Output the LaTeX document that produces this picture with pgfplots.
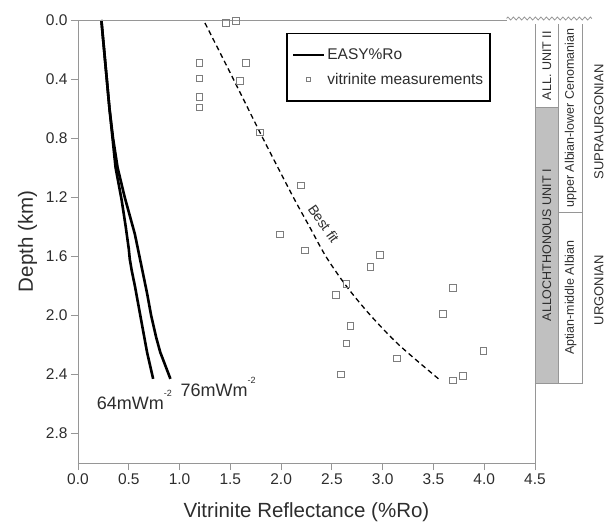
\documentclass[border=0pt]{standalone}
\usepackage{pgfplots}
\pgfplotsset{compat=1.18}
\usepackage{fontspec}
\setmainfont{Liberation Sans}
\usetikzlibrary{decorations.pathmorphing}
\definecolor{axgray}{RGB}{150,150,150}
\definecolor{txt}{RGB}{45,45,45}
\definecolor{colfill}{RGB}{192,192,192}
\definecolor{mkgray}{RGB}{125,125,125}
\pgfplotsset{
  mylinelegend/.style={legend image code/.code={\draw[##1] (0pt,0pt) -- (31pt,0pt);}},
  mymarklegend/.style={legend image code/.code={\draw[mark repeat=2,mark phase=2,##1,mark size=2.2pt] plot coordinates {(0pt,0pt)(15.5pt,0pt)(31pt,0pt)};}},
}
\newcommand{\smallsup}[1]{\raisebox{0.72em}{\fontsize{9}{9}\selectfont #1}}

\begin{document}
\begin{tikzpicture}
\useasboundingbox (-78pt,-59pt) rectangle (533pt,463pt);
\begin{axis}[
  at={(0,0)}, anchor=south west,
  scale only axis, width=457pt, height=443pt,
  xmin=0, xmax=4.5, ymin=0, ymax=3.0,
  y dir=reverse,
  clip=false,
  axis x line*=bottom, axis y line*=left,
  axis line style={axgray, line width=0.8pt, -},
  xtick={0,0.5,1,1.5,2,2.5,3,3.5,4,4.5},
  ytick={0,0.4,0.8,1.2,1.6,2.0,2.4,2.8},
  tick align=outside, major tick length=7pt,
  tick style={axgray, line width=0.8pt},
  ticklabel style={font=\fontsize{15.5}{15.5}\selectfont, text=txt},
  /pgf/number format/.cd, fixed, fixed zerofill, precision=1, assume math mode=true,
  /pgfplots/.cd,
  xlabel={Vitrinite Reflectance (\%Ro)},
  ylabel={Depth (km)},
  every axis x label/.style={at={(axis description cs:0.5,-0.124)}, anchor=base, font=\fontsize{20.5}{20.5}\selectfont, text=txt},
  every axis y label/.style={at={(axis description cs:-0.0985,0.5)}, anchor=base, rotate=90, font=\fontsize{20.5}{20.5}\selectfont, text=txt},
  legend style={at={(axis description cs:0.455,0.971)}, anchor=north west, draw=black, line width=1.6pt,
    font=\fontsize{15.5}{16}\selectfont, text=txt, inner xsep=5pt, inner ysep=13pt, row sep=8pt},
  legend cell align=left,
]
% EASY%Ro, 64 mW/m2
\addplot[black, line width=2.6pt, line join=round, mylinelegend] coordinates {
  (0.23,0) (0.27,0.3) (0.31,0.6) (0.34,0.8) (0.37,1.0) (0.43,1.22) (0.47,1.4)
  (0.50,1.55) (0.51,1.62) (0.53,1.7) (0.56,1.8) (0.60,1.95) (0.64,2.1) (0.68,2.25) (0.74,2.43)
};
\addlegendentry{EASY\%Ro}
% EASY%Ro, 76 mW/m2
\addplot[black, line width=2.6pt, line join=round, forget plot] coordinates {
  (0.23,0) (0.27,0.3) (0.31,0.6) (0.345,0.8) (0.39,1.0) (0.46,1.2) (0.52,1.35) (0.56,1.45)
  (0.59,1.55) (0.62,1.65) (0.65,1.75) (0.68,1.85) (0.72,2.0) (0.77,2.15) (0.81,2.25) (0.91,2.43)
};
% vitrinite measurements
\addplot[only marks, mark=square, mark size=3.3pt, mkgray, line width=0.6pt, mymarklegend] coordinates {
  (1.457,0.02) (1.555,0.007) (1.194,0.29) (1.654,0.29) (1.194,0.395) (1.594,0.41)
  (1.194,0.52) (1.194,0.59) (1.79,0.76) (2.195,1.12) (1.99,1.45) (2.234,1.56)
  (2.97,1.59) (2.88,1.67) (2.64,1.785) (2.54,1.86) (3.69,1.815) (3.59,1.99)
  (2.68,2.07) (2.64,2.19) (3.99,2.24) (3.14,2.29) (2.59,2.40) (3.69,2.44) (3.79,2.41)
};
\addlegendentry{vitrinite measurements}
% best fit
\addplot[black, line width=1.3pt, dash pattern=on 5pt off 3.5pt, smooth, tension=0.5, forget plot] coordinates {
  (1.25,0.02) (1.53,0.4) (1.82,0.8) (2.12,1.2) (2.28,1.4) (2.44,1.6)
  (2.64,1.8) (2.88,2.0) (3.16,2.2) (3.55,2.43)
};
\node[rotate=-55, font=\fontsize{14}{14}\selectfont, text=txt] at (axis cs:2.42,1.38) {Best fit};
\node[anchor=base west, font=\fontsize{18}{18}\selectfont, text=txt] at (axis cs:0.15,2.64) {64mWm\smallsup{-2}};
\node[anchor=base west, font=\fontsize{18}{18}\selectfont, text=txt] at (axis cs:0.975,2.55) {76mWm\smallsup{-2}};
% top line with break, right line
\draw[axgray, line width=0.8pt] (axis cs:0,0) -- (axis cs:4.22,0);
\draw[axgray, line width=0.8pt, decorate, decoration={zigzag, segment length=5.5pt, amplitude=1.5pt}] ([yshift=1.5pt]axis cs:4.22,0) -- ([yshift=1.5pt]axis cs:5.06,0);
% stratigraphic column
\fill[colfill] (axis cs:4.5,0.59) rectangle (axis cs:4.734,2.46);
\draw[axgray, line width=0.8pt] (axis cs:4.5,0.03) -- (axis cs:4.5,3.0);
\draw[axgray, line width=0.8pt] (axis cs:4.734,0.03) -- (axis cs:4.734,2.46);
\draw[axgray, line width=0.8pt] (axis cs:4.97,0.03) -- (axis cs:4.97,2.46);
\draw[axgray, line width=0.8pt] (axis cs:4.5,0.59) -- (axis cs:4.734,0.59);
\draw[axgray, line width=0.8pt] (axis cs:4.734,1.30) -- (axis cs:4.97,1.30);
\draw[axgray, line width=0.8pt] (axis cs:4.5,2.46) -- (axis cs:4.97,2.46);
\node[rotate=90, font=\fontsize{12.5}{12.5}\selectfont, text=txt] at (axis cs:4.617,0.31) {ALL. UNIT II};
\node[rotate=90, font=\fontsize{12.5}{12.5}\selectfont, text=txt] at (axis cs:4.617,1.525) {ALLOCHTHONOUS UNIT I};
\node[rotate=90, font=\fontsize{12.5}{12.5}\selectfont, text=txt] at (axis cs:4.852,0.665) {upper Albian-lower Cenomanian};
\node[rotate=90, font=\fontsize{12.5}{12.5}\selectfont, text=txt] at (axis cs:4.852,1.88) {Aptian-middle Albian};
\node[rotate=90, font=\fontsize{13}{13}\selectfont, text=txt] at (axis cs:5.13,0.69) {SUPRAURGONIAN};
\node[rotate=90, font=\fontsize{13}{13}\selectfont, text=txt] at (axis cs:5.13,1.83) {URGONIAN};
\end{axis}
\end{tikzpicture}
\end{document}
